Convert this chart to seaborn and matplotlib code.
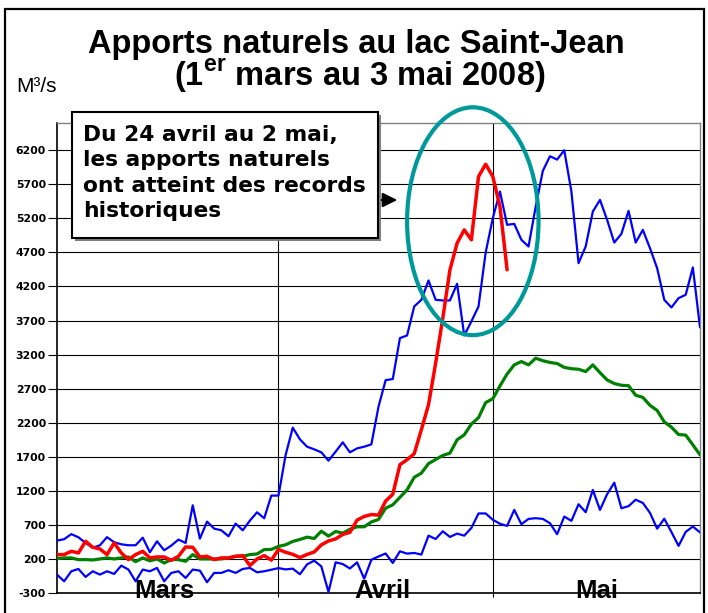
import numpy as np
import pandas as pd
import seaborn as sns
import matplotlib.pyplot as plt
from matplotlib.patches import Ellipse, Rectangle
import matplotlib.transforms as mtransforms

# ---------------- data ----------------
days = list(range(91))  # 1 mars .. 30 mai

max_vals = [469, 490, 564, 518, 435, 365, 400, 520, 445, 415,
            401, 401, 512, 298, 459, 327, 396, 484, 435, 987,
            498, 748, 645, 621, 533, 719, 621, 763, 885, 797,
            1130, 1130, 1726, 2127, 1956, 1848, 1809, 1765, 1643, 1775,
            1912, 1765, 1823, 1848, 1882, 2435, 2825, 2841, 3442, 3481,
            3907, 4004, 4288, 4004, 3995, 3995, 4239, 3481, 3687, 3907,
            4699, 5203, 5594, 5105, 5119, 4885, 4787, 5370, 5897, 6112,
            6063, 6200, 5594, 4543, 4787, 5300, 5471, 5178, 4845, 4973,
            5310, 4845, 5031, 4762, 4469, 4004, 3892, 4029, 4078, 4479,
            3599]

med_vals = [205, 215, 215, 190, 190, 185, 200, 215, 200, 215,
            229, 160, 215, 172, 200, 141, 190, 190, 166, 264,
            200, 200, 200, 200, 215, 239, 239, 264, 273, 337,
            340, 384, 408, 457, 486, 520, 500, 608, 535, 603,
            579, 635, 672, 672, 743, 780, 945, 995, 1105, 1215,
            1398, 1460, 1600, 1660, 1720, 1753, 1949, 2022, 2180, 2274,
            2496, 2552, 2740, 2915, 3049, 3098, 3049, 3147, 3110, 3085,
            3069, 3012, 2993, 2985, 2951, 3049, 2935, 2828, 2775, 2750,
            2743, 2603, 2572, 2455, 2380, 2212, 2135, 2027, 2018, 1875,
            1729]

min_vals = [-30, -128, 19, 53, -64, 19, -30, 19, -20, 102,
            44, -128, 44, 19, 68, -128, -5, 19, -79, 44,
            29, -142, -5, -5, 34, -5, 53, 68, 4, 19,
            42, 66, 46, 58, -25, 120, 175, 90, -285, 150,
            125, 60, 150, -90, 188, 236, 280, 141, 312, 278,
            288, 264, 542, 493, 606, 523, 572, 542, 655, 868,
            868, 775, 717, 685, 920, 710, 788, 798, 788, 724,
            563, 822, 759, 1003, 886, 1213, 920, 1150, 1320, 944,
            975, 1070, 1022, 876, 645, 790, 595, 392, 597, 676,
            590]

y2008 = [264, 264, 312, 288, 459, 371, 347, 264, 435, 288,
         190, 264, 312, 215, 229, 229, 180, 239, 376, 371,
         229, 239, 190, 215, 215, 239, 249, 102, 200, 249,
         182, 340, 298, 268, 220, 266, 302, 407, 464, 494,
         560, 591, 770, 824, 852, 843, 1050, 1150, 1584, 1657,
         1745, 2097, 2464, 3075, 3735, 4445, 4836, 5031, 4885, 5814,
         5995, 5814, 5374, 4445]

months = ["Mars", "Avril", "Mai"]
month_starts = [0, 31, 61]
month_lengths = [31, 30, 30]
yticks = list(range(-300, 6201, 500))

title1 = "Apports naturels au lac Saint-Jean"
title2 = r"(1$^{\mathregular{er}}$ mars au 3 mai 2008)"
unit_label = "M³/s"
note_lines = ["Du 24 avril au 2 mai,", "les apports naturels",
              "ont atteint des records", "historiques"]

# ---------------- style ----------------
sns.set_style("white")
plt.rcParams['font.family'] = ['DejaVu Sans']
plt.rcParams['text.color'] = 'black'
plt.rcParams['axes.labelcolor'] = 'black'
plt.rcParams['xtick.color'] = 'black'
plt.rcParams['ytick.color'] = 'black'
plt.rcParams['mathtext.fontset'] = 'custom'
plt.rcParams['mathtext.rm'] = 'Liberation Sans:bold'

W, H = 708, 613
fig = plt.figure(figsize=(W / 100, H / 100), dpi=100)
ax = fig.add_axes([57 / W, 20 / H, 643 / W, 470 / H])

df_hist = pd.DataFrame({"jour": days, "max": max_vals, "med": med_vals, "min": min_vals})
df_2008 = pd.DataFrame({"jour": days[:len(y2008)], "val": y2008})

sns.lineplot(data=df_hist, x="jour", y="min", color="#0000FF", linewidth=1.6, ax=ax, zorder=3)
sns.lineplot(data=df_hist, x="jour", y="max", color="#0000FF", linewidth=1.6, ax=ax, zorder=3)
sns.lineplot(data=df_hist, x="jour", y="med", color="#008000", linewidth=2.3, ax=ax, zorder=4)
sns.lineplot(data=df_2008, x="jour", y="val", color="#FF0000", linewidth=2.5, ax=ax, zorder=5)

ax.set_xlim(0, 90)
ax.set_ylim(-300, 6600)
ax.set_xlabel("")
ax.set_ylabel("")

ax.set_yticks(yticks)
ax.set_yticklabels([str(v) for v in yticks], fontsize=7.8, fontweight='bold', color='black')
ax.tick_params(axis='y', direction='out', length=6.5, width=0.8, color='black', pad=1.5, left=True)
ax.set_xticks(month_starts[1:])
ax.set_xticklabels([])
ax.tick_params(axis='x', direction='out', length=3, width=0.8, color='black', bottom=True)

ax.grid(True, axis='both', color='#000000', linewidth=0.8)
ax.set_axisbelow(True)

for side in ['left', 'bottom']:
    ax.spines[side].set_color('black')
    ax.spines[side].set_linewidth(1.2)
for side in ['top', 'right']:
    ax.spines[side].set_color('#808080')
    ax.spines[side].set_linewidth(1.0)

trans = mtransforms.blended_transform_factory(ax.transData, ax.transAxes)
for name, s, n in zip(months, month_starts, month_lengths):
    ax.text(s + (n - 1) / 2, -0.011, name, transform=trans, ha='center', va='baseline',
            fontsize=18.5, fontweight='bold', family=['Liberation Sans', 'DejaVu Sans'],
            color='black', zorder=6, clip_on=False)

# ---------------- titles ----------------
fig.text(356 / W, 1 - 53 / H, title1, ha='center', va='baseline', fontsize=23.5,
         fontweight='bold', family=['Liberation Sans', 'DejaVu Sans'], color='black')
fig.text(360 / W, 1 - 86 / H, title2, ha='center', va='baseline', fontsize=23.5,
         fontweight='bold', family=['Liberation Sans', 'DejaVu Sans'], color='black')
fig.text(16 / W, 1 - 92 / H, unit_label, ha='left', va='baseline', fontsize=15,
         family=['Liberation Sans', 'DejaVu Sans'], color='black')

# outer frame
fig.add_artist(Rectangle((5 / W, -0.05), 699 / W, 1.05 - 9 / H, transform=fig.transFigure,
                         fill=False, edgecolor='black', linewidth=1.6))

# ---------------- annotation box ----------------
bx0, bx1, by0, by1 = 72, 378, 112, 238
fig.add_artist(Rectangle(((bx0 + 3) / W, 1 - (by1 + 3) / H), (bx1 - bx0) / W, (by1 - by0) / H,
                         transform=fig.transFigure, facecolor='#7f7f7f', edgecolor='none', zorder=8))
fig.add_artist(Rectangle((bx0 / W, 1 - by1 / H), (bx1 - bx0) / W, (by1 - by0) / H,
                         transform=fig.transFigure, facecolor='white', edgecolor='black',
                         linewidth=1.5, zorder=9))
for k, line in enumerate(note_lines):
    fig.text(83 / W, 1 - (141 + 25.4 * k) / H, line, ha='left', va='baseline',
             fontsize=15.7, fontweight='bold', color='black', zorder=10)

ax.annotate("", xy=(400, H - 200), xytext=(378, H - 200), xycoords='figure pixels',
            textcoords='figure pixels',
            arrowprops=dict(arrowstyle='-|>', color='black', lw=1.5, mutation_scale=22),
            zorder=10)

# teal ellipse around the 2008 peak
ax.add_patch(Ellipse((58.2, 5158), 18.4, 3345, fill=False, edgecolor='#009999',
                     linewidth=3.0, clip_on=False, zorder=7))

fig.savefig("out.png", dpi=100)
